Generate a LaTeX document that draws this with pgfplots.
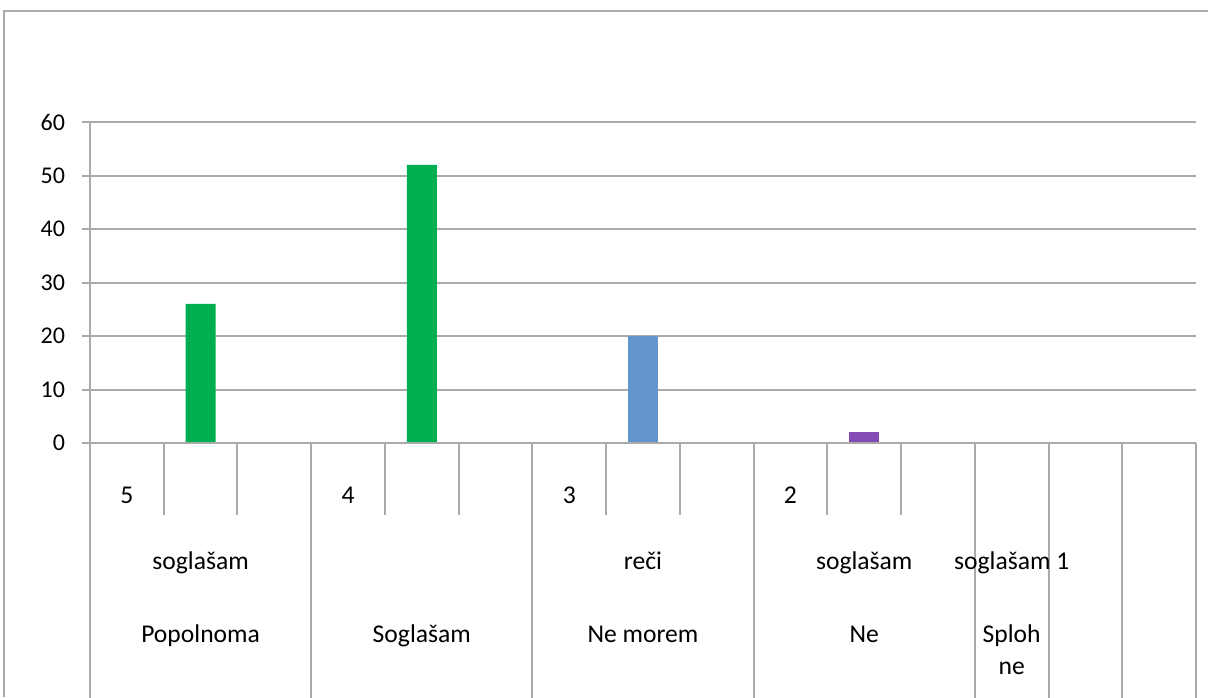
\documentclass[border=0pt]{standalone}
\usepackage{fontspec}
\setmainfont{Carlito}
\usepackage{pgfplots}
\pgfplotsset{compat=1.18}

\definecolor{exgreen}{RGB}{0,176,80}
\definecolor{exblue}{RGB}{99,150,205}
\definecolor{expurple}{RGB}{133,76,182}
\definecolor{exgrid}{RGB}{170,170,170}

\begin{document}
\begin{tikzpicture}
\fontsize{12.8pt}{15pt}\selectfont
\useasboundingbox (0,0) rectangle (604pt,-348.5pt);
% outer chart frame
\draw[exgrid, line width=1pt] (2pt,-348.5pt) -- (2pt,-5.5pt) -- (604pt,-5.5pt);

\begin{axis}[
    at={(45pt,-221.5pt)}, anchor=south west,
    scale only axis,
    width=553pt, height=160.5pt,
    xmin=0, xmax=15, ymin=0, ymax=60,
    ytick={0,10,...,60},
    xtick=\empty,
    axis x line=none,
    axis y line*=left,
    axis line style={exgrid, line width=1pt, -},
    ymajorgrids,
    grid style={exgrid, line width=1pt},
    tick align=outside,
    major tick length=4pt,
    ytick style={exgrid, line width=1pt},
    yticklabel style={font=\fontsize{12pt}{14pt}\selectfont, xshift=-4pt},
    /pgf/number format/assume math mode=true,
    ybar, bar width=15pt, bar shift=0pt,
    clip=false,
]
% Popolnoma soglasam, Soglasam, Ne morem reci, Ne soglasam, Sploh ne soglasam
\addplot[fill=exgreen, draw=none, bar shift=0pt] coordinates {(1.5,26) (4.5,52)};
\addplot[fill=exblue, draw=none, bar shift=0pt] coordinates {(7.5,20)};
\addplot[fill=expurple, draw=none, bar shift=0pt] coordinates {(10.5,2)};

% category table below the axis
\draw[exgrid, line width=1pt] (axis cs:0,0) -- (axis cs:15,0);
\pgfplotsinvokeforeach{1,2,4,5,7,8,10,11}{
  \draw[exgrid, line width=1pt] (axis cs:#1,0) -- ([yshift=-36pt]axis cs:#1,0);
}
\pgfplotsinvokeforeach{0,3,6,9,12,13,14,15}{
  \draw[exgrid, line width=1pt] (axis cs:#1,0) -- ([yshift=-130pt]axis cs:#1,0);
}

\node[anchor=base, inner sep=0pt] at ([yshift=-30pt]axis cs:0.5,0) {5};
\node[anchor=base, inner sep=0pt] at ([yshift=-30pt]axis cs:3.5,0) {4};
\node[anchor=base, inner sep=0pt] at ([yshift=-30pt]axis cs:6.5,0) {3};
\node[anchor=base, inner sep=0pt] at ([yshift=-30pt]axis cs:9.5,0) {2};
\node[anchor=base, inner sep=0pt] at ([yshift=-63pt]axis cs:1.5,0) {soglašam};
\node[anchor=base, inner sep=0pt] at ([yshift=-63pt]axis cs:7.5,0) {reči};
\node[anchor=base, inner sep=0pt] at ([yshift=-63pt]axis cs:10.5,0) {soglašam};
\node[anchor=base, inner sep=0pt] at ([yshift=-63pt]axis cs:12.5,0) {soglašam 1};
\node[anchor=base, inner sep=0pt] at ([yshift=-99.5pt]axis cs:1.5,0) {Popolnoma};
\node[anchor=base, inner sep=0pt] at ([yshift=-99.5pt]axis cs:4.5,0) {Soglašam};
\node[anchor=base, inner sep=0pt] at ([yshift=-99.5pt]axis cs:7.5,0) {Ne morem};
\node[anchor=base, inner sep=0pt] at ([yshift=-99.5pt]axis cs:10.5,0) {Ne};
\node[anchor=base, inner sep=0pt] at ([yshift=-99.5pt]axis cs:12.5,0) {Sploh};
\node[anchor=base, inner sep=0pt] at ([yshift=-115.5pt]axis cs:12.5,0) {ne};
\end{axis}
\end{tikzpicture}
\end{document}
